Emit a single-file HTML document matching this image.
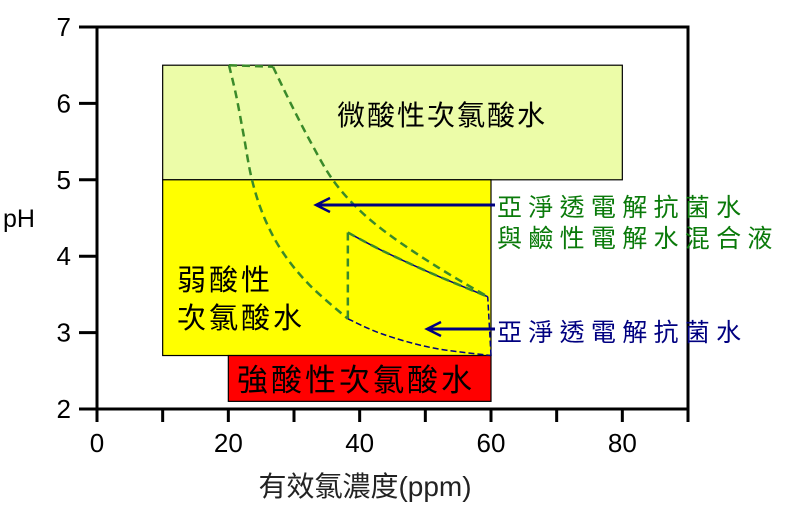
<!DOCTYPE html>
<html><head><meta charset="utf-8"><style>
html,body{margin:0;padding:0;background:#fff;}
svg{display:block;font-family:"Liberation Sans","Noto Sans CJK TC",sans-serif;}
</style></head><body>
<svg id="chart" width="800" height="506" viewBox="0 0 800 506">
<g id="regions"></g>
<g id="curves"></g>
<g id="axes"></g>
<g id="labels"></g>
</svg>
<script>
const xTicks=[0,20,40,60,80];
const xMinor=[10,30,50,70,90];
const yTicks=[2,3,4,5,6,7];
const zoneNames=["微酸性次氯酸水","弱酸性次氯酸水","強酸性次氯酸水"];
const zoneX0=[10,10,20];
const zoneX1=[80,60,60];
const zoneY0=[5,2.7,2.1];
const zoneY1=[6.5,5,2.7];
const zoneColors=["#ecfca8","#ffff00","#ff0000"];
const mixLeftX=[20.1,21.2,22.3,23.6,25.5,28.3,32.4,38.2];
const mixLeftY=[6.5,6.1,5.6,5.0,4.5,4.05,3.62,3.18];
const mixRightX=[26.8,29.5,32.5,35.9,40,45,52,59.5];
const mixRightY=[6.48,6.0,5.5,5.0,4.6,4.25,3.85,3.47];
const acidTopX=[38.2,43.5,51.1,59.5];
const acidTopY=[4.31,4.07,3.77,3.47];
const acidBotX=[38.2,43.5,51.1,60];
const acidBotY=[3.18,2.98,2.8,2.7];

const NS="http://www.w3.org/2000/svg";
const X0=97,X1=688,Y0=409,Y1=27;
const sx=v=>X0+(v-0)*(X1-X0)/90;
const sy=v=>Y0-(v-2)*(Y0-Y1)/5;
function mk(parent,tag,attrs){const e=document.createElementNS(NS,tag);for(const k in attrs)e.setAttribute(k,attrs[k]);document.getElementById(parent).appendChild(e);return e;}

for(let i=0;i<zoneNames.length;i++){
  const r=mk('regions','rect',{x:sx(zoneX0[i]),y:sy(zoneY1[i]),width:sx(zoneX1[i])-sx(zoneX0[i]),height:sy(zoneY0[i])-sy(zoneY1[i]),fill:zoneColors[i],stroke:'#000','stroke-width':1.2});
  
  
}
function smooth(xs,ys){
  const p=xs.map((x,i)=>[sx(x),sy(ys[i])]);
  let d='M'+p[0][0]+','+p[0][1];
  for(let i=0;i<p.length-1;i++){
    const p0=p[Math.max(0,i-1)],p1=p[i],p2=p[i+1],p3=p[Math.min(p.length-1,i+2)];
    const c1=[p1[0]+(p2[0]-p0[0])/6,p1[1]+(p2[1]-p0[1])/6];
    const c2=[p2[0]-(p3[0]-p1[0])/6,p2[1]-(p3[1]-p1[1])/6];
    d+=' C'+c1[0]+','+c1[1]+' '+c2[0]+','+c2[1]+' '+p2[0]+','+p2[1];
  }
  return d;
}
let c=mk('curves','path',{d:smooth(acidBotX,acidBotY),fill:'none',stroke:'#000080','stroke-width':1.5,'stroke-dasharray':'6,3'});

c=mk('curves','path',{d:smooth(acidTopX,acidTopY),fill:'none',stroke:'#000080','stroke-width':1.5});

c=mk('curves','line',{x1:sx(acidBotX[3]),y1:sy(acidBotY[3]),x2:sx(acidTopX[3]),y2:sy(acidTopY[3]),stroke:'#000080','stroke-width':1.5,'stroke-dasharray':'6,3'});

const G='#3a8a2a';
c=mk('curves','path',{d:smooth(mixLeftX,mixLeftY),fill:'none',stroke:G,'stroke-width':2.5,'stroke-dasharray':'8,5'});

c=mk('curves','path',{d:smooth(mixRightX,mixRightY),fill:'none',stroke:G,'stroke-width':2.5,'stroke-dasharray':'8,5'});

c=mk('curves','line',{x1:sx(mixLeftX[0]),y1:sy(mixLeftY[0]),x2:sx(mixRightX[0]),y2:sy(mixRightY[0]),stroke:G,'stroke-width':2.5,'stroke-dasharray':'8,5'});

c=mk('curves','path',{d:smooth(acidTopX,acidTopY),fill:'none',stroke:G,'stroke-width':2.5,'stroke-dasharray':'8,5'});

c=mk('curves','line',{x1:sx(acidTopX[0]),y1:sy(acidTopY[0]),x2:sx(acidBotX[0]),y2:sy(acidBotY[0]),stroke:G,'stroke-width':2.5,'stroke-dasharray':'8,5'});


function arrow(y,xFrom,xTo,name){
  const a=mk('curves','line',{x1:xFrom,y1:y,x2:xTo,y2:y,stroke:'#000080','stroke-width':3});
  
  const h=mk('curves','polyline',{points:(xTo+14)+','+(y-7)+' '+xTo+','+y+' '+(xTo+14)+','+(y+7),fill:'none',stroke:'#000080','stroke-width':2.5});
  
}
arrow(205,495,316,'mix-arrow');
arrow(329,495,427,'acidic-arrow');

let f=mk('axes','rect',{x:X0,y:Y1,width:X1-X0,height:Y0-Y1,fill:'none',stroke:'#000','stroke-width':3});

xTicks.concat(xMinor).forEach(v=>{
  const t=mk('axes','line',{x1:sx(v),y1:Y0,x2:sx(v),y2:Y0+13,stroke:'#000','stroke-width':3});
  
});
xTicks.forEach(v=>{
  const t=mk('axes','text',{x:sx(v),y:452,'font-size':26,'text-anchor':'middle',fill:'#000'});
  t.textContent=v;
  
});
yTicks.forEach(v=>{
  const t=mk('axes','line',{x1:X0-18,y1:sy(v),x2:X0,y2:sy(v),stroke:'#000','stroke-width':3});
  
  const l=mk('axes','text',{x:71,y:sy(v)+9,'font-size':26,'text-anchor':'end',fill:'#000'});
  l.textContent=v;
  
});
</script>
<script>
const L=document.getElementById('labels');
function txt(x,y,s,size,color,name,ls,anchor){
  const t=document.createElementNS(NS,'text');
  t.setAttribute('x',x);t.setAttribute('y',y);t.setAttribute('font-size',size);t.setAttribute('fill',color);
  if(ls)t.setAttribute('letter-spacing',ls);
  if(anchor)t.setAttribute('text-anchor',anchor);
  t.textContent=s;
  
  
  L.appendChild(t);
}
txt(337,125,"微酸性次氯酸水",28,'#000','zone-label-slight',2);
txt(177,290,"弱酸性",29,'#000','zone-label-weak-1',3);
txt(177,328,"次氯酸水",29,'#000','zone-label-weak-2',3);
txt(237,391,"強酸性次氯酸水",31,'#000','zone-label-strong',3);
txt(497,216,"亞淨透電解抗菌水",25,'#0a7a0a','mix-label-1',6.3);
txt(497,247,"與鹼性電解水混合液",25,'#0a7a0a','mix-label-2',6.3);
txt(497,341,"亞淨透電解抗菌水",25,'#000080','acidic-label',6.3);
txt(365,496,"有效氯濃度(ppm)",28,'#222','x-axis-title',0,'middle');
txt(3,227,"pH",25,'#000','y-axis-title');
</script>
</body></html>
